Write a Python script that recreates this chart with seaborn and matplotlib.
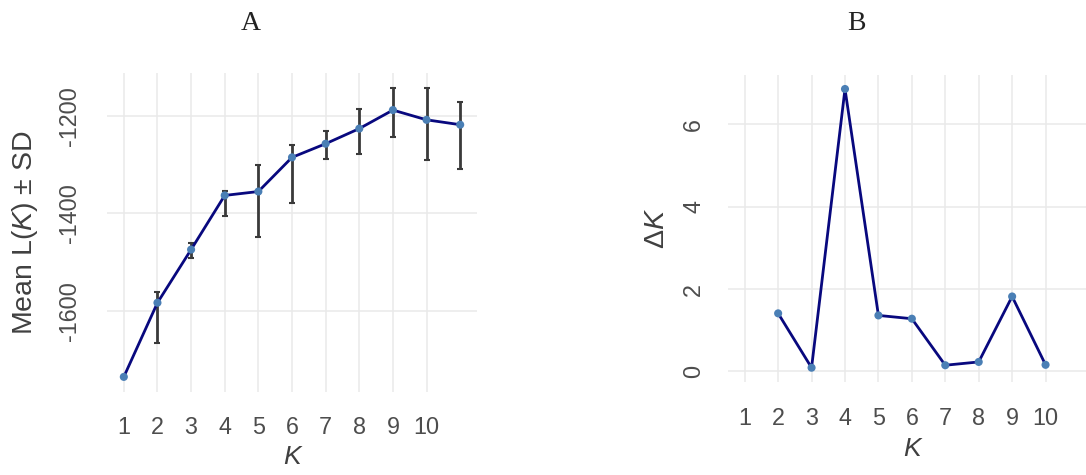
import numpy as np
import matplotlib
matplotlib.use("Agg")
import matplotlib.pyplot as plt
import seaborn as sns

# ---- data ----
k_a = [1, 2, 3, 4, 5, 6, 7, 8, 9, 10, 11]
mean_l = [-1735, -1583, -1474, -1363, -1355, -1285, -1257, -1226, -1188, -1208, -1218]
low_l = [-1735, -1665, -1491, -1406, -1449, -1379, -1289, -1279, -1244, -1290, -1309]
high_l = [-1735, -1562, -1461, -1353, -1301, -1260, -1231, -1185, -1142, -1142, -1171]

k_b = [2, 3, 4, 5, 6, 7, 8, 9, 10]
delta_k = [1.41, 0.09, 6.86, 1.36, 1.28, 0.15, 0.23, 1.82, 0.16]

x_ticks = [1, 2, 3, 4, 5, 6, 7, 8, 9, 10]
y_ticks_a = [-1600, -1400, -1200]
y_ticks_b = [0, 2, 4, 6]

sns.set_theme(style="white")
plt.rcParams['font.family'] = ['Liberation Sans', 'DejaVu Sans']
plt.rcParams['mathtext.fontset'] = 'custom'
plt.rcParams['mathtext.rm'] = 'Liberation Sans'
plt.rcParams['mathtext.it'] = 'Liberation Sans:italic'
plt.rcParams['mathtext.bf'] = 'Liberation Sans:bold'

LINE = "#08087e"
PT = "#4a7fb5"
ERR = "#3a3a3a"
GRID = "#e9e9e9"
TICK_C = "#4d4d4d"
LAB_C = "#404040"
TICK_FS = 16.8
LAB_FS = 19

fig = plt.figure(figsize=(10.86, 4.75), dpi=100)
W, H = 1086, 475

def axes_px(l, t, r, b):
    return fig.add_axes([l / W, 1 - b / H, (r - l) / W, (b - t) / H])

ax_a = axes_px(107, 73, 477, 392)
ax_b = axes_px(728, 75, 1095.7, 381.7)

def style(ax, yticks, xpad, ypad):
    ax.set_xticks(x_ticks)
    ax.set_xticklabels([str(v) for v in x_ticks])
    ax.set_yticks(yticks)
    ax.set_yticklabels([str(v) for v in yticks], rotation=90, va='center')
    ax.grid(True, color=GRID, lw=1.1)
    ax.set_axisbelow(True)
    for s in ax.spines.values():
        s.set_visible(False)
    ax.tick_params(axis='x', length=0, pad=xpad, labelsize=TICK_FS, labelcolor=TICK_C)
    ax.tick_params(axis='y', length=0, pad=ypad, labelsize=TICK_FS, labelcolor=TICK_C)
    ax.set_xlim(0.5, 11.5)

# ---- panel A ----
err_lo = np.array(mean_l) - np.array(low_l)
err_hi = np.array(high_l) - np.array(mean_l)
ax_a.errorbar(k_a, mean_l, yerr=[err_lo, err_hi], fmt='none', ecolor=ERR,
              elinewidth=2, capsize=2, capthick=1.5, zorder=2)
sns.lineplot(x=k_a, y=mean_l, ax=ax_a, color=LINE, lw=2, zorder=3)
sns.scatterplot(x=k_a, y=mean_l, ax=ax_a, color=PT, s=34, edgecolor='none', zorder=4)
style(ax_a, y_ticks_a, 17, 19)
ax_a.set_ylim(-1766, -1112)
ax_a.set_ylabel(r"Mean L($\mathit{K}$) $\pm$ SD", fontsize=20.5, color=LAB_C, va='center')
ax_a.yaxis.set_label_coords((25 - 107) / 370, 0.5)
ax_a.set_xlabel("K", fontsize=LAB_FS, style='italic', color=LAB_C, va='top')
ax_a.xaxis.set_label_coords(0.5, (392 - 445) / 319)

# ---- panel B ----
sns.lineplot(x=k_b, y=delta_k, ax=ax_b, color=LINE, lw=2, zorder=3)
sns.scatterplot(x=k_b, y=delta_k, ax=ax_b, color=PT, s=34, edgecolor='none', zorder=4)
style(ax_b, y_ticks_b, 18, 16.5)
ax_b.set_ylim(-0.25, 7.2)
ax_b.set_ylabel(r"$\Delta\mathit{K}$", fontsize=20.5, color=LAB_C, va='center')
ax_b.yaxis.set_label_coords((656.7 - 728) / 367.7, 0.5)
ax_b.set_xlabel("K", fontsize=LAB_FS, style='italic', color=LAB_C, va='top')
ax_b.xaxis.set_label_coords(0.5, (381.7 - 436.7) / 306.7)

fig.text(251 / W, 1 - 23 / H, "A", fontsize=20, family='Liberation Serif', color='#222222',
         ha='center', va='center')
fig.text(856 / W, 1 - 23 / H, "B", fontsize=20, family='Liberation Serif', color='#222222',
         ha='center', va='center')

fig.savefig("out.png", dpi=100)
